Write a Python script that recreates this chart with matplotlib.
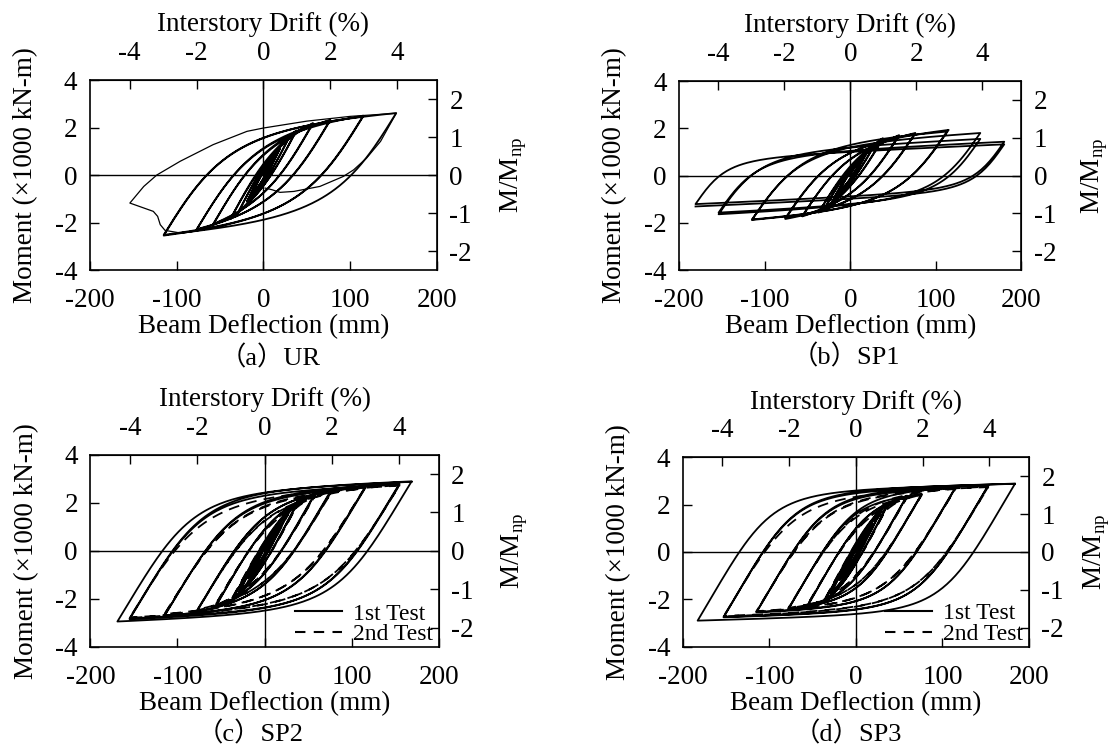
import numpy as np
import matplotlib.pyplot as plt
from matplotlib.lines import Line2D

plt.rcParams['font.family'] = ['Liberation Serif', 'Noto Sans CJK SC']
plt.rcParams['font.size'] = 19.5
plt.rcParams['mathtext.fontset'] = 'custom'
plt.rcParams['mathtext.rm'] = 'Liberation Serif'
plt.rcParams['axes.unicode_minus'] = False

# reversal points (beam deflection mm, moment x1000 kN-m)
# (a) UR
ur_d = [14, -14, 14, -14, 19, -19, 19, -19, 29, -29, 29, -29, 38, -38, 38, -38,
        57, -58, 57, -58, 77, -77, 77, -77, 115, -115, 115, -115, 153, -96]
ur_m = [0.86, -0.86, 0.85, -0.85, 1.12, -1.12, 1.10, -1.10, 1.56, -1.58, 1.54, -1.55,
        1.88, -1.85, 1.86, -1.83, 2.19, -2.09, 2.16, -2.06, 2.33, -2.30, 2.30, -2.28,
        2.50, -2.55, 2.47, -2.52, 2.61, -2.44]
# UR after flange fracture (thin line)
ur_tail_d = [-96, -113.5, -119, -122, -127, -154, -138, -123, -96, -58, -19, 0, 50, 100, 153,
             135, 119, 104, 92, 65, 35, 19, 10, 2]
ur_tail_m = [-2.44, -2.33, -2.09, -1.74, -1.53, -1.18, -0.48, 0, 0.58, 1.28, 1.84, 1.98, 2.27,
             2.47, 2.60, 1.42, 0.72, 0.22, -0.06, -0.48, -0.69, -0.73, -0.62, -0.55]

# (b) SP1
sp1_d = [14, -14, 14, -14, 19, -19, 19, -19, 29, -30, 29, -30, 38, -37, 38, -37,
         57, -56, 57, -56, 76, -76, 76, -76, 115, -115, 113, -115, 152, -154, 152, -154,
         180, -181, 180, -181]
sp1_m = [0.72, -0.72, 0.70, -0.70, 0.95, -0.95, 0.93, -0.93, 1.35, -1.40, 1.32, -1.36,
         1.58, -1.57, 1.55, -1.55, 1.71, -1.73, 1.68, -1.70, 1.80, -1.84, 1.77, -1.80,
         1.93, -1.88, 1.86, -1.86, 1.80, -1.64, 1.55, -1.57, 1.43, -1.21, 1.32, -1.31]

# (c) SP2, 1st and 2nd test
sp2_d = [14, -14, 14, -14, 19, -19, 19, -19, 29, -29, 29, -29, 39, -38, 39, -38,
         58, -57, 58, -57, 77, -78, 77, -78, 116, -115, 116, -115, 155, -155, 155, -155,
         169, -169, 169]
sp2_m = [0.90, -0.90, 0.88, -0.88, 1.15, -1.15, 1.13, -1.13, 1.72, -1.72, 1.70, -1.70,
         2.10, -2.12, 2.06, -2.08, 2.40, -2.38, 2.36, -2.35, 2.56, -2.55, 2.52, -2.52,
         2.68, -2.72, 2.64, -2.70, 2.80, -2.85, 2.76, -2.82, 2.90, -2.95, 2.88]
sp2b_d = [14, -14, 19, -19, 29, -29, 39, -38, 39, -38, 58, -57, 58, -57, 77, -77,
          77, -77, 115, -115, 115, -115, 155, -155, 155, -155]
sp2b_m = [0.88, -0.88, 1.12, -1.12, 1.66, -1.66, 2.02, -2.05, 2.0, -2.02, 2.32, -2.30,
          2.30, -2.28, 2.48, -2.48, 2.45, -2.45, 2.62, -2.66, 2.60, -2.64, 2.74, -2.80,
          2.72, -2.78]

# (d) SP3, 1st and 2nd test
sp3_d = [14, -14, 14, -14, 19, -19, 19, -19, 29, -29, 29, -29, 38, -37, 38, -37,
         59, -57, 59, -57, 76, -78, 76, -78, 115, -115, 115, -115, 153, -153, 153, -153,
         184, -183, 184]
sp3_m = [0.92, -0.92, 0.90, -0.90, 1.18, -1.18, 1.16, -1.16, 1.75, -1.75, 1.72, -1.72,
         2.10, -2.13, 2.07, -2.10, 2.38, -2.35, 2.35, -2.32, 2.45, -2.41, 2.43, -2.40,
         2.73, -2.55, 2.70, -2.53, 2.82, -2.76, 2.80, -2.74, 2.89, -2.90, 2.88]
sp3b_d = [14, -14, 19, -19, 29, -29, 38, -37, 38, -37, 59, -57, 59, -57, 76, -78,
          76, -78, 115, -115, 115, -115, 153, -153, 153, -153]
sp3b_m = [0.90, -0.90, 1.14, -1.14, 1.70, -1.70, 2.05, -2.08, 2.02, -2.05, 2.33, -2.30,
          2.30, -2.28, 2.42, -2.38, 2.40, -2.36, 2.68, -2.52, 2.66, -2.50, 2.76, -2.72,
          2.74, -2.70]

drift_per_mm = 1 / 38.6
mnp = 1.6


def branch(d1, m1, d2, m2, k, b, r, n=150):
    # smooth reversal curve between two peaks (elastic slope k, hardening ratio b)
    d = np.linspace(d1, d2, n)
    d0 = (m2 - m1 + k * d1 - b * k * d2) / (k * (1 - b))
    if (d0 - d1) * (d2 - d1) <= 0:
        return d, np.linspace(m1, m2, n)
    m0 = m1 + k * (d0 - d1)
    e = (d - d1) / (d0 - d1)
    s = b * e + (1 - b) * e / (1 + e ** r) ** (1 / r)
    m = m1 + s * (m0 - m1)
    m = m + (m2 - m[-1]) * (d - d1) / (d2 - d1)
    return d, m


def path(rev_d, rev_m, k, b, r):
    xs, ys = [], []
    pd, pm = 0.0, 0.0
    for d, m in zip(rev_d, rev_m):
        x, y = branch(pd, pm, d, m, k, b, r)
        xs.append(x)
        ys.append(y)
        pd, pm = d, m
    return np.concatenate(xs), np.concatenate(ys)


def setup(ax, caption, capx, capy, rpad=19):
    ax.set_xlim(-200, 200)
    ax.set_ylim(-4, 4)
    ax.set_xticks([-200, -100, 0, 100, 200])
    ax.set_yticks([-4, -2, 0, 2, 4])
    ax.tick_params(direction='in', length=6.5, width=1, top=False, right=False)
    ax.tick_params(axis='x', pad=13)
    ax.tick_params(axis='y', pad=9)
    for s in ax.spines.values():
        s.set_linewidth(1.2)
    ax.axhline(0, color='black', lw=1.0, zorder=1)
    ax.axvline(0, color='black', lw=1.0, zorder=1)
    ax.set_xlabel('Beam Deflection (mm)', labelpad=1)
    ax.set_ylabel('Moment (\u00d71000 kN-m)', labelpad=12)
    top = ax.secondary_xaxis('top', functions=(lambda x: x * drift_per_mm,
                                               lambda x: x / drift_per_mm))
    top.set_xticks([-4, -2, 0, 2, 4])
    top.tick_params(direction='in', length=6.5, width=1, pad=10)
    top.set_xlabel('Interstory Drift (%)', labelpad=7)
    right = ax.secondary_yaxis('right', functions=(lambda y: y / mnp, lambda y: y * mnp))
    right.set_yticks([-2, -1, 0, 1, 2])
    right.tick_params(direction='in', length=6.5, width=1, pad=9)
    right.set_ylabel('M/M$_{\\mathrm{np}}$', labelpad=rpad)
    ax.text(capx, capy, caption, transform=ax.transAxes, ha='center', va='center',
            fontsize=19)


fig = plt.figure(figsize=(11.15, 7.53), dpi=100)
lw = 1.3

ax1 = fig.add_axes([0.0807, 0.6414, 0.3112, 0.2523])
x, y = path(ur_d, ur_m, 0.058, 0.025, 2.0)
ax1.plot(x, y, color='black', lw=lw)
ax1.plot(ur_tail_d, ur_tail_m, color='black', lw=0.9)
setup(ax1, '（a）UR', 0.519, -0.46)

ax2 = fig.add_axes([0.6092, 0.6414, 0.3068, 0.2510])
x, y = path(sp1_d, sp1_m, 0.052, 0.03, 2.0)
ax2.plot(x, y, color='black', lw=lw)
setup(ax2, '（b）SP1', 0.487, -0.46, rpad=17)

ax3 = fig.add_axes([0.0811, 0.1412, 0.3123, 0.2546])
x, y = path(sp2_d, sp2_m, 0.06, 0.02, 3.0)
ax3.plot(x, y, color='black', lw=lw)
x, y = path(sp2b_d, sp2b_m, 0.058, 0.02, 2.6)
ax3.plot(x, y, color='black', lw=lw, dashes=(6, 4))
setup(ax3, '（c）SP2', 0.458, -0.455)

ax4 = fig.add_axes([0.6125, 0.1412, 0.3103, 0.2515])
x, y = path(sp3_d, sp3_m, 0.062, 0.015, 3.5)
ax4.plot(x, y, color='black', lw=lw)
x, y = path(sp3b_d, sp3b_m, 0.06, 0.015, 3.0)
ax4.plot(x, y, color='black', lw=lw, dashes=(6, 4))
setup(ax4, '（d）SP3', 0.477, -0.46, rpad=13)

handles = [Line2D([], [], color='black', lw=1.5),
           Line2D([], [], color='black', lw=1.5, dashes=(5, 4))]
for ax in (ax3, ax4):
    ax.legend(handles, ['1st Test', '2nd Test'], loc='lower right', frameon=False,
              fontsize=17, handlelength=2.0, handletextpad=0.45, labelspacing=-0.05,
              borderaxespad=0.0, bbox_to_anchor=(1.01, -0.04))

fig.savefig('out.png', dpi=100)
